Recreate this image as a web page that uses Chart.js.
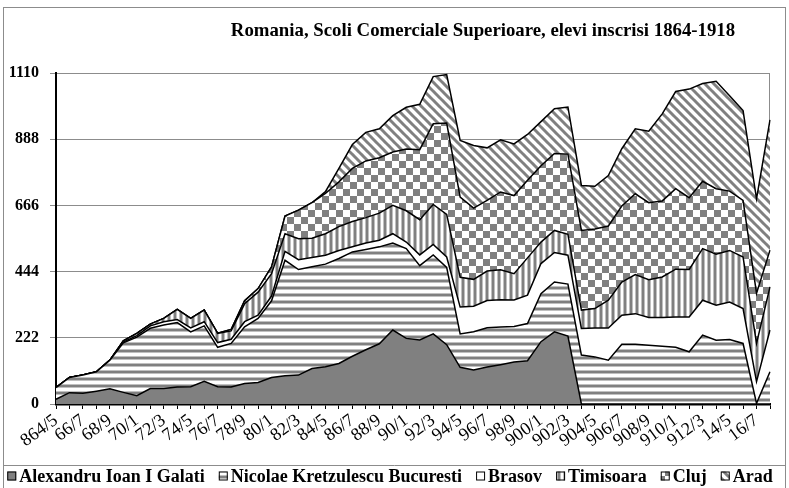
<!DOCTYPE html>
<html>
<head>
<meta charset="utf-8">
<script src="https://cdn.jsdelivr.net/npm/chart.js@4"></script>
<style>
  html, body { margin: 0; padding: 0; background: #fff; }
  #wrap { width: 789px; height: 488px; }
</style>
</head>
<body>
<div id="wrap"><canvas id="myChart" width="789" height="488"></canvas></div>
<script>
// school years, 1864/5 .. 1917/8
var years = ['864/5','65/6','66/7','67/8','68/9','69/70','70/1','71/2','72/3','73/4',
  '74/5','75/6','76/7','77/8','78/9','79/80','80/1','81/2','82/3','83/4',
  '84/5','85/6','86/7','87/8','88/9','89/90','90/1','91/2','92/3','93/4',
  '94/5','95/6','96/7','97/8','98/9','99/900','900/1','901/2','902/3','903/4',
  '904/5','905/6','906/7','907/8','908/9','909/10','910/1','911/2','912/3','913/4',
  '14/5','15/6','16/7','17/8'];

var galati = [16,38,36,43,51,39,28,52,52,57,58,76,58,57,69,72,89,95,97,119,
  125,136,160,182,202,248,220,215,235,199,123,114,124,132,141,145,209,242,228,0,
  0,0,0,0,0,0,0,0,0,0,0,0,0,0];
var bucuresti = [39,51,61,65,96,166,196,202,213,216,184,186,132,146,190,215,257,387,354,341,
  344,352,350,336,325,292,301,249,265,259,112,128,132,126,119,125,161,167,174,164,
  158,147,200,200,197,194,190,175,231,214,216,203,2,108];
var brasov = [0,0,0,0,0,3,5,8,11,10,13,14,16,14,17,11,16,30,33,31,
  30,27,17,22,22,31,22,36,35,35,90,86,91,92,89,95,101,99,97,89,
  97,108,98,103,93,96,102,117,117,117,126,117,73,140];
var timisoara = [0,0,0,0,0,4,8,6,11,34,32,39,31,28,60,77,75,59,70,65,
  72,80,85,85,91,95,105,118,134,143,100,90,99,100,88,125,72,74,70,62,
  65,93,111,131,127,136,160,159,173,171,173,173,128,145];
var cluj = [0,0,0,0,0,0,0,0,0,0,0,0,0,5,10,12,23,59,96,119,
  135,150,178,190,186,179,207,235,271,306,269,239,237,261,262,260,256,258,269,267,
  267,249,255,271,258,255,270,241,226,220,199,190,168,123];
var arad = [0,0,0,0,0,0,0,0,0,0,0,0,0,0,0,0,0,0,0,0,
  6,45,80,96,97,122,140,152,158,163,190,210,176,175,173,154,148,150,158,151,
  143,169,192,218,240,292,326,364,328,360,320,301,317,437];

var yTicks = [0,222,444,666,888,1110];
var titleText = 'Romania, Scoli Comerciale Superioare, elevi inscrisi 1864-1918';

// fill patterns
var G = '#808080', L = '#c0c0c0';
function makePattern(w, h, draw) {
  var c = document.createElement('canvas');
  c.width = w; c.height = h;
  var g = c.getContext('2d');
  g.fillStyle = '#fff';
  g.fillRect(0, 0, w, h);
  draw(g, w, h);
  return g.createPattern(c, 'repeat');
}
var pHoriz = makePattern(4, 7, function (g) {
  g.fillStyle = G; g.fillRect(0, 0, 4, 2);
  g.fillStyle = L; g.fillRect(0, 2, 4, 1); g.fillRect(0, 6, 4, 1);
});
var pVert = makePattern(6, 4, function (g) {
  g.fillStyle = G; g.fillRect(0, 0, 2, 4);
  g.fillStyle = L; g.fillRect(2, 0, 1, 4); g.fillRect(5, 0, 1, 4);
});
var pCheck = makePattern(14, 14, function (g) {
  g.fillStyle = G; g.fillRect(0, 0, 7, 7); g.fillRect(7, 7, 7, 7);
});
var pDiag = makePattern(9, 9, function (g, w) {
  g.strokeStyle = G; g.lineWidth = 3;
  [-w, 0, w].forEach(function (o) {
    g.beginPath(); g.moveTo(o - 1, -1); g.lineTo(o + w + 1, w + 1); g.stroke();
  });
});

function ds(label, data, bg, fill) {
  return {
    label: label, data: data, backgroundColor: bg, fill: fill,
    borderColor: '#000', borderWidth: 1.5, pointRadius: 0, tension: 0
  };
}

// frame, plot border, title and legend
const decor = {
  id: 'decor',
  beforeDraw: function (chart) {
    var ctx = chart.ctx, a = chart.chartArea;
    ctx.save();
    ctx.fillStyle = '#fff';
    ctx.fillRect(0, 0, chart.width, chart.height);
    ctx.strokeStyle = '#8c8c8c';
    ctx.lineWidth = 1;
    ctx.strokeRect(3.5, 7.5, 782, 490);
    ctx.beginPath(); ctx.moveTo(3, 465.5); ctx.lineTo(786, 465.5); ctx.stroke();
    ctx.strokeRect(a.left, a.top + 0.5, a.right - a.left - 0.5, a.bottom - a.top);
    ctx.fillStyle = '#000';
    ctx.font = 'bold 18.8px "Liberation Serif"';
    ctx.textAlign = 'center';
    ctx.textBaseline = 'middle';
    ctx.fillText(titleText, 483, 31);
    ctx.restore();
  },
  afterDraw: function (chart) {
    var ctx = chart.ctx, sets = chart.data.datasets;
    var gap = 14, box = 9, y = 476;
    ctx.save();
    ctx.font = 'bold 18px "Liberation Serif"';
    ctx.textBaseline = 'middle';
    ctx.textAlign = 'left';
    var widths = sets.map(function (d) { return box + 3 + ctx.measureText(d.label).width; });
    var total = widths.reduce(function (s, w) { return s + w; }, 0) + gap * (sets.length - 1);
    var x = 390 - total / 2;
    sets.forEach(function (d, i) {
      ctx.fillStyle = d.backgroundColor;
      ctx.fillRect(x, y - box / 2, box, box);
      ctx.strokeStyle = '#000';
      ctx.lineWidth = 1;
      ctx.strokeRect(x + 0.5, y - box / 2 + 0.5, box - 1, box - 1);
      ctx.fillStyle = '#000';
      ctx.fillText(d.label, x + box + 3, y + 1);
      x += widths[i] + gap;
    });
    ctx.restore();
  }
};

const config = {
  type: 'line',
  data: {
    labels: years,
    datasets: [
      ds('Alexandru Ioan I Galati', galati, G, 'origin'),
      ds('Nicolae Kretzulescu Bucuresti', bucuresti, pHoriz, '-1'),
      ds('Brasov', brasov, '#fff', '-1'),
      ds('Timisoara', timisoara, pVert, '-1'),
      ds('Cluj', cluj, pCheck, '-1'),
      ds('Arad', arad, pDiag, '-1')
    ]
  },
  options: {
    responsive: false,
    animation: false,
    layout: { padding: { top: 73, right: 19, left: 0, bottom: 0 } },
    plugins: {
      legend: { display: false },
      tooltip: { enabled: false }
    },
    scales: {
      x: {
        offset: false,
        grid: { drawOnChartArea: false, drawTicks: true, tickLength: 5, color: '#000' },
        border: { color: '#000', width: 2.5 },
        ticks: {
          autoSkip: false, maxRotation: 36, minRotation: 36, padding: 1, color: '#000',
          font: { family: 'Liberation Serif', size: 18 },
          callback: function (v, i) { return i % 2 === 0 ? years[i] : ''; }
        },
        afterFit: function (s) { s.height = 84; s.paddingLeft = 0; s.paddingRight = 0; }
      },
      y: {
        stacked: true,
        min: 0, max: 1110,
        afterBuildTicks: function (s) { s.ticks = yTicks.map(function (v) { return { value: v }; }); },
        grid: { color: '#8c8c8c', lineWidth: 1, tickLength: 6 },
        border: { color: '#000', width: 2 },
        ticks: {
          padding: 11, color: '#000',
          font: { family: 'Liberation Serif', size: 16, weight: 'bold' },
          callback: function (v) { return String(v); }
        },
        afterFit: function (s) { s.width = 56; s.paddingTop = 0; s.paddingBottom = 0; }
      }
    }
  },
  plugins: [decor]
};

const myChart = new Chart(document.getElementById('myChart'), config);
</script>
</body>
</html>
